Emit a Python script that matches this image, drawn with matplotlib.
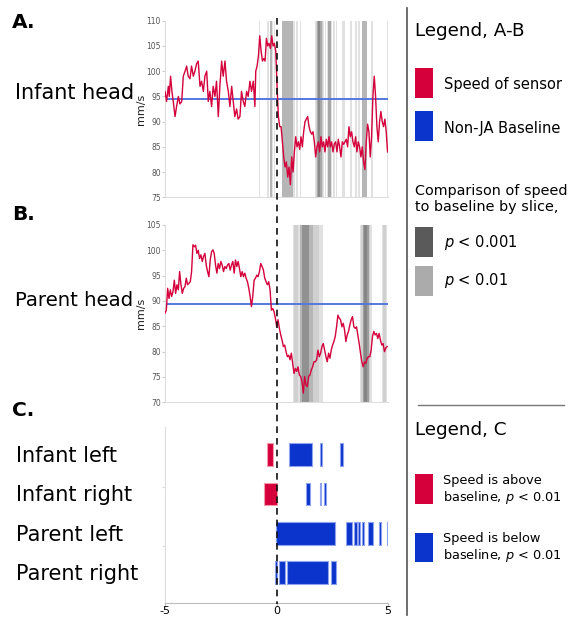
import numpy as np
import matplotlib.pyplot as plt
from matplotlib.lines import Line2D
from matplotlib.patches import Rectangle

plt.rcParams['font.family'] = 'DejaVu Sans'
plt.rcParams['mathtext.fontset'] = 'dejavusans'

# ---- data ----
# A. infant head speed (mm/s), two sampled stretches
inf_t1 = [-5.00, -4.93, -4.85, -4.81, -4.75, -4.69, -4.63, -4.55, -4.48, -4.40,
          -4.33, -4.25, -4.18, -4.10, -4.03, -3.96, -3.88, -3.81, -3.73, -3.66,
          -3.58, -3.51, -3.43, -3.36, -3.28, -3.21, -3.13, -3.06, -2.99, -2.91,
          -2.84, -2.76, -2.69, -2.61, -2.54, -2.46, -2.39, -2.31, -2.24, -2.16,
          -2.09, -2.01, -1.94, -1.87, -1.79, -1.72, -1.64, -1.57, -1.49, -1.42,
          -1.34, -1.27, -1.19, -1.12, -1.04, -0.97]
inf_v1 = [96, 94, 97, 95, 99, 96, 94, 91, 93, 95,
          93.5, 94, 99, 100, 101, 99, 98.5, 101, 99, 100,
          101.5, 102, 97, 98, 96, 99, 100, 94, 96, 93,
          97, 95, 98, 91, 97, 102, 99, 102, 98, 96,
          93, 97, 94, 91, 92.5, 90.5, 91, 96, 94, 93,
          96, 95, 98, 96, 98, 93]
inf_t2 = np.linspace(-0.93, 4.98, 100)
inf_v2 = [100, 101, 103, 107, 104, 102, 102.5, 102, 106.5, 105,
          105.5, 104.5, 107, 105, 105.5, 104, 97, 91, 89, 89,
          86, 83, 81, 82, 79, 81, 77.5, 83, 80, 84,
          87, 85, 86, 84.5, 87, 85, 88, 90, 90.5, 91,
          89, 88, 87.5, 88, 86, 83, 85, 86, 84, 87,
          85, 86, 84, 86.5, 85, 87, 85, 86, 84, 85.5,
          86, 84, 86.5, 85, 83, 86, 85.5, 86, 86.5, 85,
          89, 87, 88, 86, 85, 87, 84, 86, 85, 83,
          85, 82, 80.5, 86, 89.5, 88, 83, 87, 95, 99,
          95, 89, 86, 90, 92, 90, 89, 90.5, 88, 84]
inf_base = 94.4
inf_light = [(-0.77, -0.74), (-0.44, -0.40), (-0.37, -0.32), (-0.19, -0.14), (-0.12, -0.08),
             (0.75, 0.83), (0.86, 0.97), (1.04, 1.11),
             (1.73, 1.80), (1.78, 2.10), (2.05, 2.12), (2.16, 2.24), (2.28, 2.50),
             (2.55, 2.62), (2.66, 2.70), (2.92, 3.07), (3.30, 3.37), (3.52, 3.60),
             (3.67, 3.74), (4.22, 4.31), (4.94, 5.00)]
inf_dark = [(-0.29, -0.20), (0.23, 0.75), (1.80, 1.95), (1.88, 2.03), (2.33, 2.43), (3.82, 4.04)]

# B. parent head speed (mm/s)
par_t = np.linspace(-5.0, 4.96, 168)
par_v = [87.6, 88.2, 92.5, 90.5, 92.2, 90.9, 91.8, 94.1, 91.5, 93.2,
         92.2, 95.8, 93.2, 91.5, 92.5, 92.8, 94.5, 93.2, 93.5, 93.8,
         95.8, 101.1, 100.7, 101.0, 99.4, 100.0, 98.4, 99.1, 97.8, 98.8,
         99.4, 97.1, 95.8, 94.8, 98.1, 99.7, 100.1, 99.4, 97.1, 95.5,
         97.4, 96.4, 97.8, 97.1, 95.8, 96.8, 96.4, 97.1, 97.4, 96.1,
         97.1, 97.8, 95.5, 98.1, 96.8, 97.8, 96.4, 94.8, 95.8, 94.8,
         95.5, 94.5, 93.8, 92.5, 90.9, 88.9, 90.9, 94.1, 94.5, 95.1,
         94.8, 95.8, 97.4, 96.8, 96.1, 94.5, 93.8, 93.2, 93.8, 92.2,
         88.2, 88.5, 87.9, 86.6, 84.9, 86.3, 84.6, 83.3, 82.3, 81.0,
         81.3, 80.0, 79.0, 79.3, 78.4, 79.7, 77.7, 75.7, 76.7, 76.1,
         77.0, 75.4, 75.1, 74.1, 71.8, 75.1, 73.4, 73.1, 75.1, 75.4,
         76.4, 77.0, 78.0, 78.0, 78.4, 80.3, 79.0, 79.7, 81.0, 81.6,
         80.3, 79.0, 78.0, 79.7, 78.7, 80.3, 81.3, 82.0, 83.0, 84.9,
         87.2, 86.6, 86.3, 84.9, 85.6, 84.3, 82.0, 83.3, 84.0, 85.3,
         86.3, 86.9, 84.9, 84.6, 84.9, 83.3, 81.6, 79.7, 78.0, 77.0,
         78.0, 77.7, 78.7, 79.0, 79.0, 80.3, 83.0, 84.0, 83.3, 83.6,
         82.6, 83.6, 82.3, 81.3, 81.6, 80.0, 80.7, 81.0]
par_base = 89.4
par_light = [(0.73, 1.05), (0.80, 0.98), (1.65, 2.07), (1.65, 1.90), (3.74, 4.27), (3.80, 4.20),
             (4.72, 4.97), (4.76, 4.93)]
par_dark = [(1.05, 1.65), (1.15, 1.45), (3.86, 4.16), (3.92, 4.05)]

# C. significant slices (start, end) in s
c_labels = ['Infant left', 'Infant right', 'Parent left', 'Parent right']
c_above = [[(-0.42, -0.15)],
           [(-0.54, 0.0)],
           [],
           []]
c_below = [[(0.55, 1.60), (1.96, 2.04), (2.84, 2.96)],
           [(1.31, 1.49), (1.93, 2.01), (2.13, 2.24)],
           [(-0.04, 2.63), (3.13, 3.37), (3.49, 3.61), (3.67, 3.76), (3.82, 3.94),
            (4.12, 4.33), (4.58, 4.69), (4.94, 5.0)],
           [(-0.06, 0.04), (0.09, 0.36), (0.48, 2.33), (2.46, 2.69)]]

RED = '#d5003b'
BLUE = '#0a34cc'
BASE_BLUE = '#5577e0'

W, H = 574, 619
fig = plt.figure(figsize=(W / 100, H / 100), dpi=100)


def fx(x):
    return x / W


def fy(y):
    return 1 - y / H


def head_panel(top, bottom, t, v, base, light, dark, ylim, yticks):
    ax = fig.add_axes([fx(165), fy(bottom), fx(388) - fx(165), fy(top) - fy(bottom)])
    for a, b in light:
        ax.axvspan(a, b, color='#bdbdbd', alpha=0.45, lw=0, zorder=1)
    for a, b in dark:
        ax.axvspan(a, b, color='#6e6e6e', alpha=0.5, lw=0, zorder=1)
    ax.axhline(base, color=BASE_BLUE, lw=1.4, zorder=2)
    ax.plot(t, v, color=RED, lw=1.0, zorder=3)
    ax.set_xlim(-5, 5)
    ax.set_ylim(*ylim)
    ax.set_yticks(yticks)
    ax.set_xticks([])
    for s in ['top', 'right']:
        ax.spines[s].set_visible(False)
    for s in ['left', 'bottom']:
        ax.spines[s].set_color('#dddddd')
    ax.tick_params(axis='y', labelsize=5.5, labelcolor='#555555', color='#cccccc', length=2, pad=1)
    ax.set_ylabel('mm/s', fontsize=8, labelpad=0.5, color='#222222')
    return ax


ax_a = head_panel(20.7, 197.3, np.concatenate([inf_t1, inf_t2]), np.concatenate([inf_v1, inf_v2]),
                  inf_base, inf_light, inf_dark, (75, 110), range(75, 111, 5))
ax_b = head_panel(225, 402.3, par_t, par_v, par_base, par_light, par_dark, (70, 105), range(70, 106, 5))

# panel C
ax_c = fig.add_axes([fx(165), fy(603), fx(388) - fx(165), fy(427) - fy(603)])
rows = [4, 3, 2, 1]
for y, above, below in zip(rows, c_above, c_below):
    if above:
        ax_c.broken_barh([(a, b - a) for a, b in above], (y - 0.29, 0.58),
                         facecolor=RED, edgecolor='#f29aaa', lw=0.8)
    ax_c.broken_barh([(a, b - a) for a, b in below], (y - 0.29, 0.58),
                     facecolor=BLUE, edgecolor='#8fa3ee', lw=0.8)
ax_c.set_xlim(-5, 5)
ax_c.set_ylim(0.22, 4.71)
ax_c.set_xticks([-5, 0, 5])
ax_c.set_xticklabels(['-5', '0', '5'])
ax_c.set_yticks([1.67, 3.18])
ax_c.set_yticklabels([])
for s in ['top', 'right']:
    ax_c.spines[s].set_visible(False)
ax_c.spines['left'].set_color('#dddddd')
ax_c.spines['bottom'].set_color('#bbbbbb')
ax_c.tick_params(axis='y', color='#dddddd', length=2)
ax_c.tick_params(axis='x', labelsize=8, color='#bbbbbb', length=2, pad=0.5)

# dashed event line at t = 0 across all panels
x0 = fx(165) + (fx(388) - fx(165)) * 0.5
fig.add_artist(Line2D([x0, x0], [fy(18), fy(604)], transform=fig.transFigure,
                      color='#111111', lw=1.2, ls=(0, (4, 3)), zorder=10))

# left labels
fig.text(fx(12), fy(22), 'A.', fontsize=14.5, fontweight='bold', va='center')
fig.text(fx(12), fy(215), 'B.', fontsize=14.5, fontweight='bold', va='center')
fig.text(fx(12), fy(410), 'C.', fontsize=14.5, fontweight='bold', va='center')
fig.text(fx(15), fy(93), 'Infant head', fontsize=15, va='center')
fig.text(fx(15), fy(300), 'Parent head', fontsize=14.2, va='center')
for lab, y in zip(c_labels, [456, 495, 535, 574]):
    fig.text(fx(16), fy(y), lab, fontsize=15, va='center')

# right-hand legend
fig.add_artist(Line2D([fx(407), fx(407)], [fy(8), fy(615)], transform=fig.transFigure,
                      color='#555555', lw=1.2))
fig.add_artist(Line2D([fx(418), fx(564)], [fy(405), fy(405)], transform=fig.transFigure,
                      color='#777777', lw=1.0))


def swatch(y_top, y_bot, color):
    fig.add_artist(Rectangle((fx(415), fy(y_bot)), fx(433) - fx(415), fy(y_top) - fy(y_bot),
                             transform=fig.transFigure, facecolor=color, edgecolor='none'))


fig.text(fx(415), fy(31), 'Legend, A-B', fontsize=13.2, va='center')
swatch(68, 98, RED)
fig.text(fx(444), fy(84), 'Speed of sensor', fontsize=10.5, va='center')
swatch(111, 141, BLUE)
fig.text(fx(444), fy(129), 'Non-JA Baseline', fontsize=10.5, va='center')
fig.text(fx(415), fy(199), 'Comparison of speed\nto baseline by slice,', fontsize=10.4, va='center',
         linespacing=1.15)
swatch(227, 257, '#5a5a5a')
fig.text(fx(444), fy(242), '$p$ < 0.001', fontsize=10.5, va='center')
swatch(266, 296, '#ababab')
fig.text(fx(444), fy(281), '$p$ < 0.01', fontsize=10.5, va='center')

fig.text(fx(415), fy(430), 'Legend, C', fontsize=13.2, va='center')
swatch(474, 504, RED)
fig.text(fx(443), fy(490), 'Speed is above\nbaseline, $p$ < 0.01', fontsize=9.3, va='center',
         linespacing=1.15)
swatch(533, 562, BLUE)
fig.text(fx(443), fy(548), 'Speed is below\nbaseline, $p$ < 0.01', fontsize=9.3, va='center',
         linespacing=1.15)

fig.savefig('out.png', dpi=100, facecolor='white')
